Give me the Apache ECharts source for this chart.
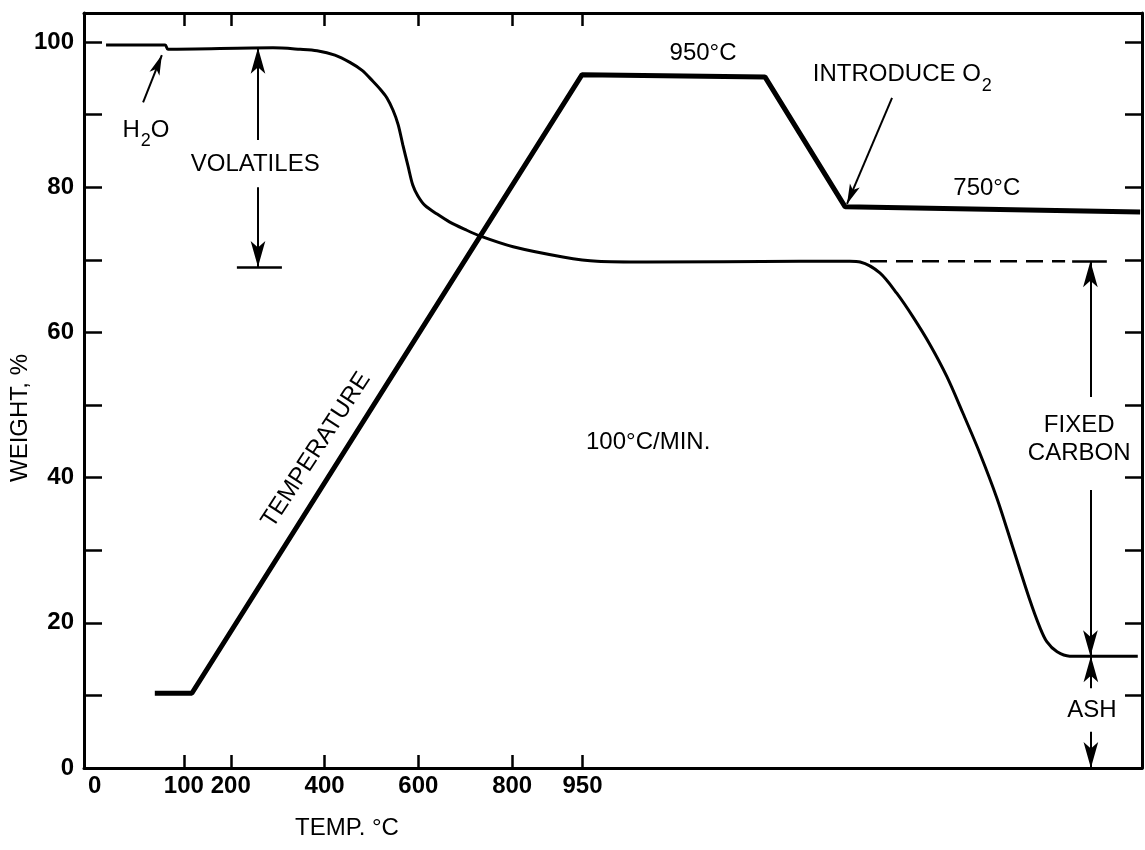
<!DOCTYPE html>
<html><head><meta charset="utf-8">
<script src="https://cdn.jsdelivr.net/npm/echarts@6/dist/echarts.min.js"></script>
<style>html,body{margin:0;padding:0;background:#fff}#c{width:1145px;height:850px}</style>
</head><body><div id="c"></div>
<script>
// X axis is elapsed time (min) at 100 °C/min; tick labels give the furnace temperature
const xTickValues = [2.13, 3.13, 5.13, 7.13, 9.13, 10.63];
const xLabelValues = [0.23, 2.13, 3.13, 5.13, 7.13, 9.13, 10.63];
const xLabelTexts = ['0', '100', '200', '400', '600', '800', '950'];
const yTickValues = [0, 10, 20, 30, 40, 50, 60, 70, 80, 90, 100];
const yLabelValues = [0, 20, 40, 60, 80, 100];

// Weight curve (%)
const weightTime = [0.47, 1.73, 1.79, 4.03, 4.61, 4.97, 5.35, 5.67, 5.93, 6.16, 6.33, 6.46, 6.59, 6.70, 6.80, 6.91, 7.01, 7.12, 7.27, 7.53, 7.80, 8.12, 8.44, 9.15, 10.21, 10.94, 12.00, 15.27, 16.33, 16.55, 16.97, 17.33, 17.68, 18.04, 18.40, 18.74, 19.10, 19.47, 19.81, 20.17, 20.38, 20.53, 20.75, 21.02, 21.60, 22.47];
const weightPct = [99.6, 99.6, 99.0, 99.2, 99.0, 98.8, 98.2, 97.2, 96.1, 94.6, 93.4, 92.3, 90.6, 88.6, 85.8, 82.9, 80.3, 78.8, 77.5, 76.3, 75.2, 74.2, 73.3, 71.8, 70.4, 69.8, 69.7, 69.8, 69.8, 69.7, 68.2, 65.4, 62.1, 58.3, 53.9, 48.9, 43.4, 37.1, 30.3, 23.1, 19.4, 17.4, 16.0, 15.4, 15.4, 15.4];

// Temperature program (drawn on the weight scale)
const tempTime = [1.51, 2.30, 10.62, 14.52, 16.23, 22.52];
const tempLevel = [10.3, 10.3, 95.5, 95.2, 77.3, 76.6];

// Dashed fixed-carbon reference
const dashTime = [16.76, 20.92];
const dashLevel = [69.8, 69.8];

// Arrows (tail -> tip)
const arrowFrom = [[3.71, 86.5], [3.71, 80.0], [21.46, 51.1], [21.46, 38.3], [21.47, 11.0], [21.47, 5.0]];
const arrowTo = [[3.71, 99.2], [3.71, 69.0], [21.46, 69.8], [21.46, 15.4], [21.47, 15.4], [21.47, 0.0]];
const pointerFrom = [[1.26, 91.7], [17.23, 92.3]];
const pointerTo = [[1.66, 98.2], [16.27, 77.7]];

// Plain bar caps
const capFrom = [[3.26, 69.0], [21.07, 69.8]];
const capTo = [[4.22, 69.0], [21.81, 69.8]];

// Annotations
const noteText = ['{n|H}{s|2}{n|O}', 'VOLATILES', '950°C', '{n|INTRODUCE O}{s|2}', '750°C', 'TEMPERATURE', '100°C/MIN.', 'FIXED\nCARBON', 'ASH'];
const noteTime = [1.32, 3.65, 13.20, 17.45, 19.25, 4.95, 12.03, 21.22, 21.49];
const noteLevel = [87.9, 83.1, 98.5, 95.5, 79.9, 43.8, 44.8, 45.2, 8.0];
const noteRotate = [0, 0, 0, 0, 0, 57, 0, 0, 0];

const FONT = '"Liberation Sans", Arial, Helvetica, sans-serif';
const zip = (a, b) => a.map((v, i) => [v, b[i]]);

const chart = echarts.init(document.getElementById('c'), null, {renderer: 'canvas'});
const axisLine = {show: true, onZero: false, lineStyle: {color: '#000', width: 3}};
const tickStyle = {color: '#000', width: 2.5};

chart.setOption({
  animation: false,
  backgroundColor: '#fff',
  grid: {left: 84, right: 3, top: 13, bottom: 82, containLabel: false, outerBoundsMode: 'none'},
  xAxis: [
    {type: 'value', min: 0, max: 22.56, position: 'bottom', axisLine: axisLine, splitLine: {show: false},
     axisTick: {show: true, inside: true, length: 13, lineStyle: tickStyle, customValues: xTickValues},
     axisLabel: {show: true, customValues: xLabelValues, margin: 6, color: '#000', fontFamily: FONT, fontSize: 24, fontWeight: 'bold',
       formatter: function (v) {
         let best = 0;
         xLabelValues.forEach((x, i) => { if (Math.abs(x - v) < Math.abs(xLabelValues[best] - v)) best = i; });
         return xLabelTexts[best];
       }}},
    {type: 'value', min: 0, max: 22.56, position: 'top', axisLine: axisLine, splitLine: {show: false},
     axisTick: {show: true, inside: true, length: 13, lineStyle: tickStyle, customValues: xTickValues},
     axisLabel: {show: false}}
  ],
  yAxis: [
    {type: 'value', min: 0, max: 104, position: 'left', axisLine: axisLine, splitLine: {show: false},
     axisTick: {show: true, inside: true, length: 18, lineStyle: tickStyle, customValues: yTickValues},
     axisLabel: {show: true, customValues: yLabelValues, margin: 10, color: '#000', fontFamily: FONT, fontSize: 24, fontWeight: 'bold'}},
    {type: 'value', min: 0, max: 104, position: 'right', axisLine: axisLine, splitLine: {show: false},
     axisTick: {show: true, inside: true, length: 17, lineStyle: tickStyle, customValues: yTickValues},
     axisLabel: {show: false}}
  ],
  graphic: [
    {type: 'text', x: 347, y: 828, style: {text: 'TEMP. °C', font: '24px ' + FONT, fill: '#000', align: 'center', verticalAlign: 'middle', textAlign: 'center', textVerticalAlign: 'middle'}},
    {type: 'text', x: 20, y: 418, rotation: Math.PI / 2, style: {text: 'WEIGHT, %', font: '24px ' + FONT, fill: '#000', align: 'center', verticalAlign: 'middle', textAlign: 'center', textVerticalAlign: 'middle'}}
  ],
  series: [
    {type: 'line', name: 'Weight', data: zip(weightTime, weightPct), showSymbol: false, symbol: 'none', smooth: 0.3,
     lineStyle: {color: '#000', width: 3}, z: 3},
    {type: 'line', name: 'Temperature', data: zip(tempTime, tempLevel), showSymbol: false, symbol: 'none',
     lineStyle: {color: '#000', width: 5}, z: 3},
    {type: 'line', name: 'Fixed carbon level', data: zip(dashTime, dashLevel), showSymbol: false, symbol: 'none',
     lineStyle: {color: '#000', width: 2.5, type: [17, 9]}, z: 3},
    {type: 'lines', coordinateSystem: 'cartesian2d', name: 'Arrows', z: 4,
     symbol: ['none', 'arrow'], symbolSize: [0, [11, 26]],
     lineStyle: {color: '#000', width: 2, opacity: 1},
     data: arrowFrom.map((f, i) => ({coords: [f, arrowTo[i]]}))},
    {type: 'lines', coordinateSystem: 'cartesian2d', name: 'Pointers', z: 4,
     symbol: ['none', 'arrow'], symbolSize: [0, [8, 20]],
     lineStyle: {color: '#000', width: 2, opacity: 1},
     data: pointerFrom.map((f, i) => ({coords: [f, pointerTo[i]]}))},
    {type: 'lines', coordinateSystem: 'cartesian2d', name: 'Caps', z: 4, symbol: ['none', 'none'],
     lineStyle: {color: '#000', width: 2.5, opacity: 1},
     data: capFrom.map((f, i) => ({coords: [f, capTo[i]]}))},
    {type: 'scatter', name: 'Notes', symbolSize: 0, z: 5, silent: true, itemStyle: {opacity: 1, color: '#000'},
     data: noteText.map((t, i) => ({value: [noteTime[i], noteLevel[i]],
       label: {show: true, position: 'inside', formatter: t, rotate: noteRotate[i], color: '#000', opacity: 1,
         fontFamily: FONT, fontSize: 24, lineHeight: 28, align: 'center', verticalAlign: 'middle',
         rich: {n: {fontFamily: FONT, fontSize: 24, color: '#000', lineHeight: 40},
                s: {fontFamily: FONT, fontSize: 18, color: '#000', lineHeight: 40, padding: [22, 0, 0, 1]}}}}))}
  ]
});
</script></body></html>
